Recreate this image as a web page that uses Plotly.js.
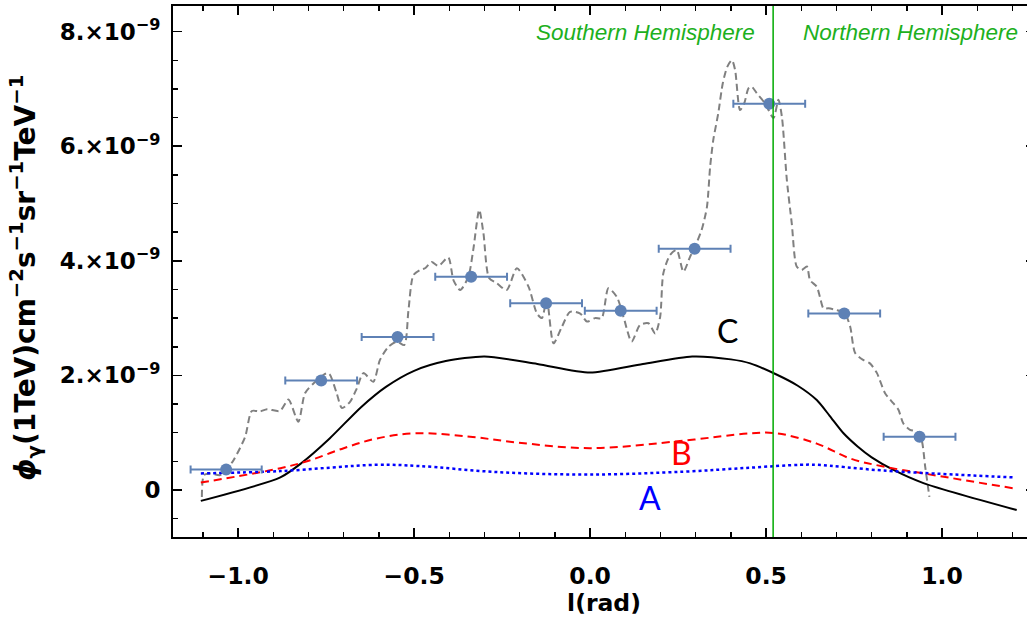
<!DOCTYPE html>
<html>
<head>
<meta charset="utf-8">
<script src="https://cdn.plot.ly/plotly-3.0.1.min.js"></script>
<style>
html,body{margin:0;padding:0;overflow:hidden;background:#fff;}
#chart{width:1035px;height:617px;}
</style>
</head>
<body>
<div id="chart"></div>
<script>
// Longitude l (rad) and flux (in units of 1e-9 cm^-2 s^-1 sr^-1 TeV^-1)
const pointL    = [-1.034, -0.764, -0.547, -0.338, -0.125, 0.087, 0.297, 0.509, 0.722, 0.936];
const pointPhi  = [0.36, 1.91, 2.67, 3.72, 3.26, 3.13, 4.21, 6.74, 3.08, 0.93];
const pointErrL = [0.101, 0.102, 0.102, 0.102, 0.102, 0.102, 0.102, 0.102, 0.102, 0.102];

const grayL = [-1.103,-1.097,-1.080,-1.051,-1.034,-1.013,-0.980,-0.961,-0.938,-0.918,-0.881,-0.857,-0.829,-0.810,-0.786,-0.748,-0.739,-0.720,-0.705,-0.682,-0.663,-0.644,-0.616,-0.597,-0.573,-0.549,-0.528,-0.516,-0.502,-0.483,-0.469,-0.450,-0.431,-0.403,-0.388,-0.369,-0.346,-0.332,-0.315,-0.303,-0.287,-0.265,-0.237,-0.208,-0.175,-0.151,-0.137,-0.123,-0.104,-0.080,-0.057,-0.028,-0.009,0.014,0.033,0.052,0.076,0.095,0.118,0.142,0.166,0.185,0.199,0.208,0.227,0.246,0.265,0.284,0.298,0.317,0.332,0.341,0.350,0.364,0.377,0.390,0.403,0.412,0.426,0.438,0.450,0.459,0.474,0.497,0.521,0.535,0.545,0.559,0.573,0.587,0.601,0.616,0.625,0.644,0.653,0.663,0.677,0.701,0.724,0.739,0.753,0.776,0.795,0.815,0.838,0.862,0.876,0.890,0.909,0.928,0.942,0.952,0.964];
const grayPhi = [-0.12,0.26,0.29,0.26,0.35,0.52,0.93,1.38,1.37,1.41,1.38,1.58,1.19,1.69,1.86,2.04,2.01,1.69,1.43,1.54,1.77,2.04,1.89,2.27,2.50,2.59,2.53,3.14,3.75,3.84,3.87,3.98,3.91,4.06,3.66,3.49,3.72,4.19,4.89,4.48,3.70,3.61,3.49,3.87,3.55,3.08,3.00,3.32,2.56,2.85,3.11,3.08,2.94,3.00,3.00,3.52,3.37,3.02,2.59,2.88,2.91,2.73,3.02,3.78,4.10,4.19,3.81,4.07,4.25,4.54,4.94,5.64,6.11,6.57,7.10,7.39,7.50,7.33,6.63,6.75,7.01,7.04,6.92,6.75,6.49,6.81,6.51,5.41,4.65,3.90,3.84,3.90,3.66,3.55,3.37,3.17,3.17,3.14,3.08,2.85,2.39,2.27,2.21,2.04,1.69,1.51,1.40,1.16,1.05,1.02,0.87,0.41,-0.12];

const cL   = [-1.106,-0.88,-0.82,-0.74,-0.65,-0.58,-0.50,-0.41,-0.30,-0.15,0.0,0.15,0.29,0.40,0.455,0.528,0.59,0.644,0.68,0.72,0.76,0.80,0.862,0.947,1.212];
const cPhi = [-0.19,0.22,0.47,0.90,1.45,1.80,2.08,2.25,2.33,2.20,2.05,2.20,2.33,2.28,2.21,2.02,1.82,1.57,1.30,0.99,0.76,0.57,0.35,0.12,-0.35];

const bL   = [-1.106,-0.88,-0.795,-0.70,-0.606,-0.492,-0.341,-0.208,0.0,0.265,0.455,0.53,0.644,0.739,0.833,0.947,1.203];
const bPhi = [0.13,0.38,0.52,0.73,0.90,0.99,0.93,0.83,0.73,0.86,0.99,0.99,0.81,0.55,0.41,0.29,0.03];

const aL   = [-1.106,-0.88,-0.606,-0.49,-0.256,0.0,0.265,0.455,0.597,0.644,0.833,1.203];
const aPhi = [0.29,0.33,0.44,0.42,0.31,0.27,0.32,0.39,0.44,0.44,0.34,0.22];

const divideL = 0.52;
const yTickVals = [0, 2, 4, 6, 8];
const yTickText = ['0', '2.×10<sup>−9</sup>', '4.×10<sup>−9</sup>', '6.×10<sup>−9</sup>', '8.×10<sup>−9</sup>'];
const xTickVals = [-1, -0.5, 0, 0.5, 1];
const xTickText = ['−1.0', '−0.5', '0.0', '0.5', '1.0'];

const traces = [
  {x: grayL, y: grayPhi, mode: 'lines', line: {color: '#808080', width: 2, dash: '7px,4px', shape: 'spline', smoothing: 0.7}, hoverinfo: 'skip'},
  {x: cL, y: cPhi, mode: 'lines', line: {color: '#000000', width: 2, shape: 'spline', smoothing: 0.7}},
  {x: bL, y: bPhi, mode: 'lines', line: {color: '#ff0000', width: 2, dash: '8px,5px', shape: 'spline', smoothing: 1}},
  {x: aL, y: aPhi, mode: 'lines', line: {color: '#0000ff', width: 2.5, dash: '3px,3px', shape: 'spline', smoothing: 1}},
  {x: pointL, y: pointPhi, mode: 'markers', marker: {color: '#5e81b5', size: 12},
   error_x: {type: 'data', array: pointErrL, color: '#5e81b5', thickness: 2, width: 4}}
];

const yTickFont = {family: 'DejaVu Sans, sans-serif', size: 23, color: '#000', weight: 'bold'};
const xTickFont = {family: 'DejaVu Sans, sans-serif', size: 23.5, color: '#000', weight: 'bold'};
const layout = {
  width: 1035, height: 617,
  margin: {l: 173, r: 0, t: 6, b: 80},
  paper_bgcolor: '#fff', plot_bgcolor: '#fff',
  showlegend: false,
  xaxis: {
    range: [-1.185, 1.264], tickmode: 'array', tickvals: xTickVals, ticktext: xTickText,
    ticks: 'inside', ticklen: 9, tickwidth: 1.5, tickcolor: '#000',
    minor: {tickmode: 'linear', tick0: 0, dtick: 0.1, ticks: 'inside', ticklen: 5, tickwidth: 1.5, tickcolor: '#000', showgrid: false},
    showline: true, linewidth: 2, linecolor: '#000', mirror: 'allticks',
    showgrid: false, zeroline: false, tickfont: xTickFont, ticklabelstandoff: 17,
    automargin: false,
    title: {text: '<b>l(rad)</b>', font: {family: 'DejaVu Sans, sans-serif', size: 23.5, color: '#000'}, standoff: 4}
  },
  yaxis: {
    range: [-0.82, 8.447], tickmode: 'array', tickvals: yTickVals, ticktext: yTickText,
    ticks: 'inside', ticklen: 9, tickwidth: 1.5, tickcolor: '#000',
    minor: {tickmode: 'linear', tick0: 0, dtick: 0.5, ticks: 'inside', ticklen: 5, tickwidth: 1.5, tickcolor: '#000', showgrid: false},
    showline: true, linewidth: 2, linecolor: '#000', mirror: 'allticks',
    showgrid: false, zeroline: false, tickfont: yTickFont, ticklabelstandoff: 6,
    automargin: false
  },
  shapes: [
    {type: 'line', xref: 'x', yref: 'paper', x0: divideL, x1: divideL, y0: 0, y1: 1, line: {color: '#00aa00', width: 1.5}}
  ],
  annotations: [
    {xref: 'paper', yref: 'paper', x: 0, y: 0.51, xshift: -170, yshift: -12, textangle: -90, showarrow: false,
     text: '<b><i>ϕ</i><sub>γ</sub>(1TeV)cm<sup>−2</sup>s<sup>−1</sup>sr<sup>−1</sup>TeV<sup>−1</sup></b>',
     font: {family: 'DejaVu Sans, sans-serif', size: 28, color: '#000'}},
    {xref: 'x', yref: 'paper', x: 0.156, y: 0.977, text: '<i>Southern Hemisphere</i>', showarrow: false, font: {family: 'Liberation Sans, Arial, sans-serif', size: 22.5, color: '#1db01d'}},
    {xref: 'x', yref: 'paper', x: 0.909, y: 0.977, text: '<i>Northern Hemisphere</i>', showarrow: false, font: {family: 'Liberation Sans, Arial, sans-serif', size: 22.5, color: '#1db01d'}},
    {xref: 'x', yref: 'y', x: 0.389, y: 2.79, text: 'C', showarrow: false, font: {family: 'Lato, Open Sans, sans-serif', size: 32, color: '#000'}},
    {xref: 'x', yref: 'y', x: 0.26, y: 0.66, text: 'B', showarrow: false, font: {family: 'Lato, Open Sans, sans-serif', size: 32, color: '#ff0000'}},
    {xref: 'x', yref: 'y', x: 0.17, y: -0.13, text: 'A', showarrow: false, font: {family: 'Lato, Open Sans, sans-serif', size: 32, color: '#0000ff'}}
  ]
};

Plotly.newPlot('chart', traces, layout, {displayModeBar: false, staticPlot: true});
</script>
</body>
</html>
